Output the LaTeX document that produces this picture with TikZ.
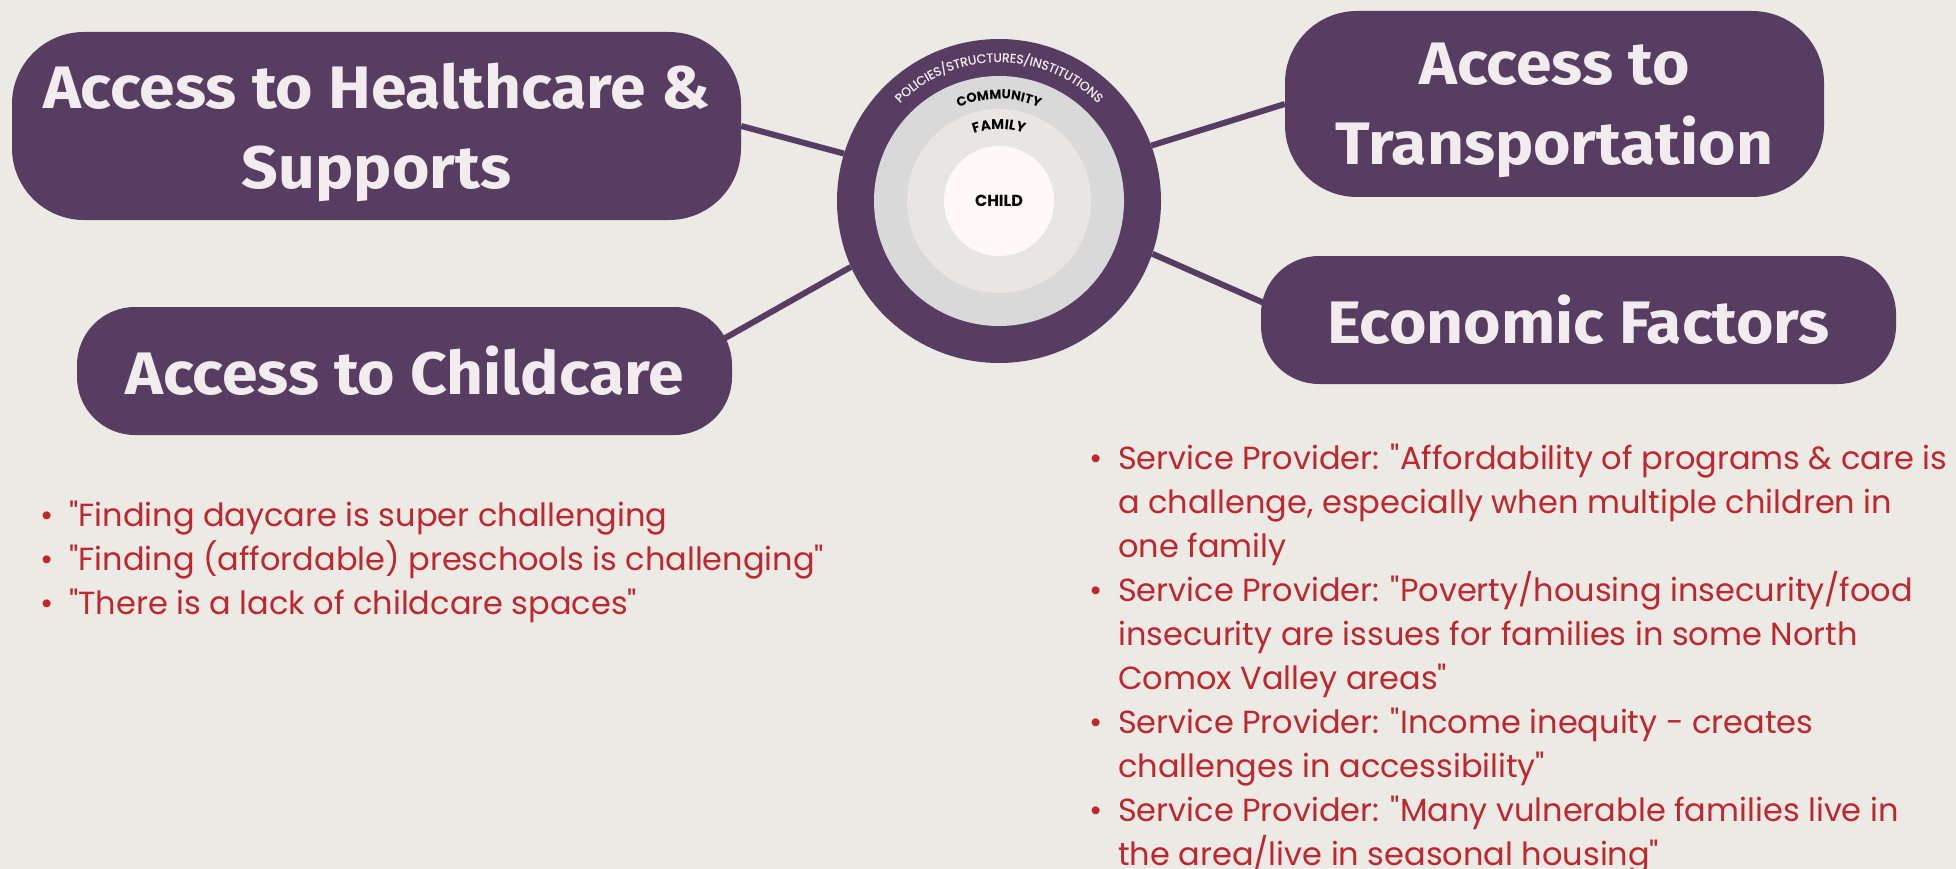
\documentclass[tikz,border=0pt]{standalone}
\usepackage{fontspec}
\newfontfamily\headfont{Fira Sans}[FakeStretch=1.07]
\newfontfamily\ringfont{Poppins}
\newfontfamily\ringmed{Poppins}[FakeBold=0.8]
\newfontfamily\quotefont{Poppins}
\usetikzlibrary{calc,decorations.text}

\definecolor{paper}{RGB}{235,234,229}
\definecolor{plum}{RGB}{88,61,98}
\definecolor{boxtext}{RGB}{242,236,238}
\definecolor{commgray}{RGB}{217,217,217}
\definecolor{famgray}{RGB}{232,230,228}
\definecolor{childwhite}{RGB}{254,249,248}
\definecolor{quotered}{RGB}{192,38,45}

\newcommand{\itm}{\llap{\textbullet\hspace{16pt}}}

\begin{document}
\begin{tikzpicture}[x=1pt, y=1pt,
    topic/.style={rectangle, fill=plum, text=boxtext, align=center, inner sep=0pt,
        font=\headfont\bfseries\fontsize{60}{80}\selectfont},
    ring/.style={circle, inner sep=0pt},
    link/.style={draw=plum, line width=6pt},
    quotelist/.style={anchor=north west, align=left, inner sep=0pt, text=quotered,
        font=\quotefont\fontsize{32}{44}\selectfont},
    arclabel/.style={decorate, decoration={text along path, text align=center, text={#1}}}]

    \fill [paper] (0,0) rectangle (1956,-869);
    \useasboundingbox (0,0) rectangle (1956,-869);

    % nested circles
    \coordinate (ctr) at (999,-201);
    \node [ring, fill=plum, minimum size=324pt] (policy) at (ctr) {};
    \node [ring, fill=commgray, minimum size=250pt] (community) at (ctr) {};
    \node [ring, fill=famgray, minimum size=184pt] (family) at (ctr) {};
    \node [ring, fill=childwhite, minimum size=110pt,
        font=\ringfont\bfseries\fontsize{16}{18}\selectfont] (child) at (ctr) {CHILD};

    \path [arclabel={|\ringmed\fontsize{12.5}{14}\selectfont\color{boxtext}|POLICIES/STRUCTURES/INSTITUTIONS}]
        ($(ctr)+(180:139)$) arc [start angle=180, end angle=0, radius=139pt];
    \path [arclabel={|\ringfont\bfseries\fontsize{13}{15}\selectfont|COMMUNITY}]
        ($(ctr)+(180:102)$) arc [start angle=180, end angle=0, radius=102pt];
    \path [arclabel={|\ringfont\bfseries\fontsize{14}{16}\selectfont|FAMILY}]
        ($(ctr)+(180:72)$) arc [start angle=180, end angle=0, radius=72pt];

    % topic boxes
    \node [topic, text depth=0pt, minimum width=729pt, minimum height=188pt, rounded corners=72pt] (health) at (376.5,-126) {Access to Healthcare \&\\Supports};
    \node [topic, text depth=0pt, minimum width=539pt, minimum height=186pt, rounded corners=72pt] (trans) at (1554.5,-104) {Access to\\Transportation};
    \node [topic, minimum width=635pt, minimum height=128pt, rounded corners=58pt] (econ) at (1578.5,-320) {Economic Factors};
    \node [topic, minimum width=655pt, minimum height=128pt, rounded corners=58pt] (care) at (404.5,-371) {Access to Childcare};

    \path [link] (health.east) edge (policy.163);
    \path [link] ($(care.east)+(-30,20)$) edge (policy.204);
    \path [link] (policy.20) edge (trans.west);
    \path [link] (policy.341) edge ($(econ.west)+(10,14)$);

    % quotes
    \node [quotelist] (carelist) at (69,-501) {\itm"Finding daycare is super challenging\\
        \itm"Finding (affordable) preschools is challenging"\\
        \itm"There is a lack of childcare spaces"};
    \node [quotelist] (econlist) at (1118,-444) {\itm Service Provider: "Affordability of programs \& care is\\
        a challenge, especially when multiple children in\\
        one family\\
        \itm Service Provider: "Poverty/housing insecurity/food\\
        insecurity are issues for families in some North\\
        Comox Valley areas"\\
        \itm Service Provider: "Income inequity - creates\\
        challenges in accessibility"\\
        \itm Service Provider: "Many vulnerable families live in\\
        the area/live in seasonal housing"};

\end{tikzpicture}
\end{document}
